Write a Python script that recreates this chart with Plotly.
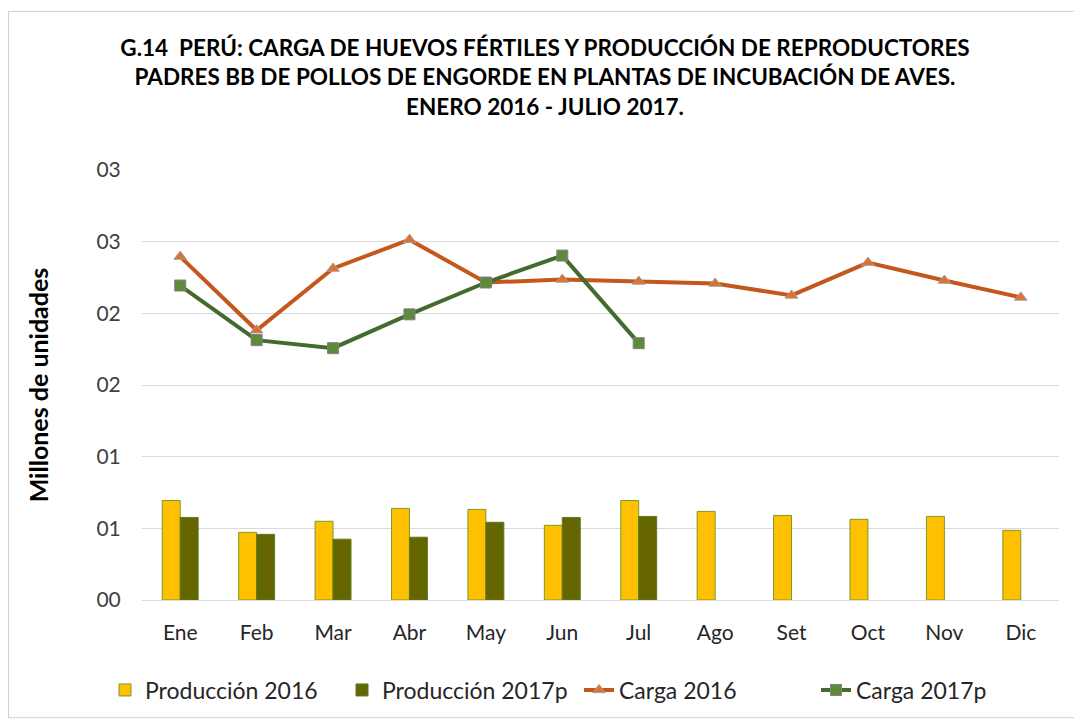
import plotly.graph_objects as go

months = ["Ene", "Feb", "Mar", "Abr", "May", "Jun", "Jul", "Ago", "Set", "Oct", "Nov", "Dic"]
prod_2016 = [0.694, 0.472, 0.549, 0.639, 0.632, 0.521, 0.694, 0.618, 0.590, 0.563, 0.583, 0.486]
prod_2017 = [0.576, 0.458, 0.424, 0.438, 0.542, 0.576, 0.583]
carga_2016 = [2.396, 1.882, 2.313, 2.514, 2.215, 2.236, 2.222, 2.208, 2.125, 2.354, 2.229, 2.111]
carga_2017 = [2.194, 1.813, 1.757, 1.993, 2.215, 2.403, 1.792]
y_tickvals = [0, 0.5, 1.0, 1.5, 2.0, 2.5, 3.0]
y_ticktext = ["00", "01", "01", "02", "02", "03", "03"]

FONT = "Lato"
OFF = 8                      # default page body margin
PW, PH = 1082, 722           # page size
W, H = PW - OFF, PH - OFF    # figure size
# plot area in page pixels
PL, PR, PT, PB = 142, 1059, 170, 601
L, R, T, B = PL - OFF, W - (PR - OFF), PT - OFF, H - (PB - OFF)
pw = PR - PL
ph = PB - PT

fig = go.Figure()
fig.add_trace(go.Bar(
    x=months, y=prod_2016, name="Producción 2016",
    marker=dict(color="#FFC000", line=dict(color="#7A9A2A", width=1)),
))
fig.add_trace(go.Bar(
    x=months[:len(prod_2017)], y=prod_2017, name="Producción 2017p",
    marker=dict(color="#666600", line=dict(color="#5A7A20", width=1)),
))
fig.add_trace(go.Scatter(
    x=months, y=carga_2016, name="Carga 2016", mode="lines+markers",
    line=dict(color="#C4581C", width=4),
    marker=dict(symbol="triangle-up", size=11, color="#E0702A",
                line=dict(color="#A0A0A0", width=1)),
))
fig.add_trace(go.Scatter(
    x=months[:len(carga_2017)], y=carga_2017, name="Carga 2017p", mode="lines+markers",
    line=dict(color="#446B2E", width=4),
    marker=dict(symbol="square", size=11, color="#5E8A3A",
                line=dict(color="#808080", width=1)),
))

fig.add_shape(
    type="rect", xref="paper", yref="paper",
    x0=(OFF + 0.5 - PL) / pw, x1=(PW - 1 - PL) / pw,
    y0=(PB - 719) / ph, y1=(PB - 11) / ph,
    line=dict(color="#D0D0D0", width=1), fillcolor="rgba(0,0,0,0)", layer="below",
)

fig.update_layout(
    width=W, height=H,
    margin=dict(l=L, r=R, t=T, b=B),
    paper_bgcolor="white", plot_bgcolor="white",
    barmode="group", bargap=0.53, bargroupgap=0,
    font=dict(family=FONT, size=21, color="#404040"),
    title=dict(
        text="G.14  PERÚ: CARGA DE HUEVOS FÉRTILES Y PRODUCCIÓN DE REPRODUCTORES<br>"
             "PADRES BB DE POLLOS DE ENGORDE EN PLANTAS DE INCUBACIÓN DE AVES.<br>"
             "ENERO 2016 - JULIO 2017.",
        x=(545 - OFF) / W, xanchor="center", xref="container",
        y=1 - 48 / H, yanchor="top", yref="container",
        font=dict(family=FONT, size=22.5, color="#000000", weight="bold"),
    ),
    xaxis=dict(
        range=[-0.5, len(months) - 0.5], autorange=False,
        showgrid=False, showline=True, linecolor="#D9D9D9", linewidth=1,
        ticks="outside", ticklen=14, tickcolor="rgba(0,0,0,0)",
        tickfont=dict(family=FONT, size=21, color="#262626"),
    ),
    yaxis=dict(
        range=[0, 3.0], tickvals=y_tickvals, ticktext=y_ticktext,
        showgrid=True, gridcolor="#D9D9D9", gridwidth=1, zeroline=False,
        ticks="outside", ticklen=16, tickcolor="rgba(0,0,0,0)",
        tickfont=dict(family=FONT, size=21, color="#404040"),
        title=dict(text="Millones de unidades", standoff=40,
                   font=dict(family=FONT, size=25, color="#000000", weight="bold")),
    ),
    legend=dict(
        orientation="h", xref="paper", yref="paper",
        x=(105 - PL) / pw, xanchor="left", y=(PB - 690) / ph, yanchor="middle",
        font=dict(family=FONT, size=23, color="#262626"),
        traceorder="normal", itemwidth=30, entrywidth=192, entrywidthmode="pixels",
    ),
)

fig.write_html("out.html")
